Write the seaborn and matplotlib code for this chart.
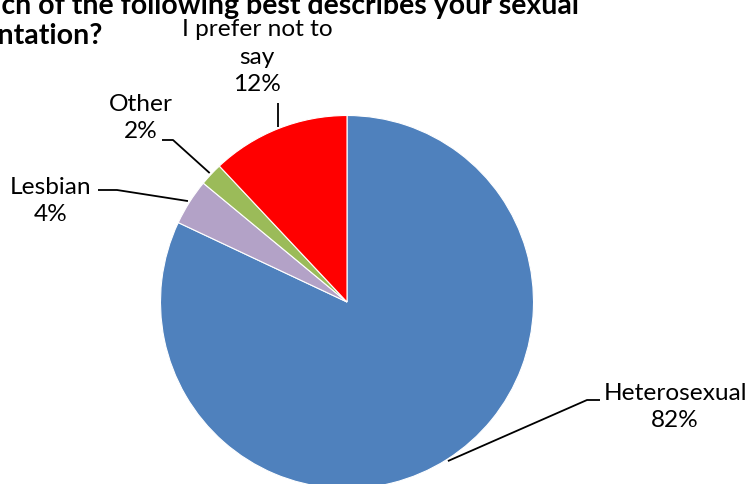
import matplotlib
matplotlib.use("Agg")
import matplotlib.pyplot as plt
from matplotlib.lines import Line2D
import numpy as np
import seaborn as sns

# Survey answers and shares (%)
categories = ["Heterosexual", "Lesbian", "Other", "I prefer not to say"]
shares = [82, 4, 2, 12]
label_lines = ["Heterosexual", "Lesbian", "Other", "I prefer not to\nsay"]
colors = ["#4F81BD", "#B3A2C7", "#9BBB59", "#FF0000"]
title = "Which of the following best describes your sexual\norientation?"

sns.set_style("white")
plt.rcParams["font.family"] = ["Lato", "DejaVu Sans"]

W, H = 752, 484
fig = plt.figure(figsize=(W / 100, H / 100), dpi=100)

def fx(x):
    return x / W

def fy(y):
    return 1 - y / H

# pie centre and radius in px (top-left origin)
cx, cy, r = 347, 302, 186.5
ax = fig.add_axes([fx(cx - r), fy(cy + r), 2 * r / W, 2 * r / H])
wedges, _ = ax.pie(shares, colors=colors, startangle=90, counterclock=False,
                   wedgeprops=dict(edgecolor="white", linewidth=0.8))
ax.set_xlim(-1, 1)
ax.set_ylim(-1, 1)
ax.set_aspect("equal")
ax.axis("off")

def edge_point(w, rad=1.01):
    a = np.deg2rad((w.theta1 + w.theta2) / 2)
    return cx + r * rad * np.cos(a), cy - r * rad * np.sin(a)

def seg(pts):
    xs = [fx(p[0]) for p in pts]
    ys = [fy(p[1]) for p in pts]
    fig.add_artist(Line2D(xs, ys, transform=fig.transFigure, color="black",
                          linewidth=1.3, solid_capstyle="butt"))

label_size = 17.6
# text anchors (px) and leader elbows for each slice
text_pos = [(675, 407), (51, 201), (141, 118), (257, 57)]
elbows = [[(587, 400), (600, 400)],
          [(117, 190), (98, 190)],
          [(173, 140), (162, 140)],
          None]

for w, lab, val, (tx, ty), el in zip(wedges, label_lines, shares, text_pos, elbows):
    fig.text(fx(tx), fy(ty), f"{lab}\n{val}%", ha="center", va="center",
             fontsize=label_size, linespacing=1.38, color="black")
    p = edge_point(w)
    if el is None:
        seg([p, (p[0], 103)])
    else:
        seg([p] + el)

fig.text(fx(-52), fy(21), title, ha="left", va="center", fontsize=20.5,
         fontweight="bold", linespacing=1.15, color="black")

fig.savefig("out.png", dpi=100)
